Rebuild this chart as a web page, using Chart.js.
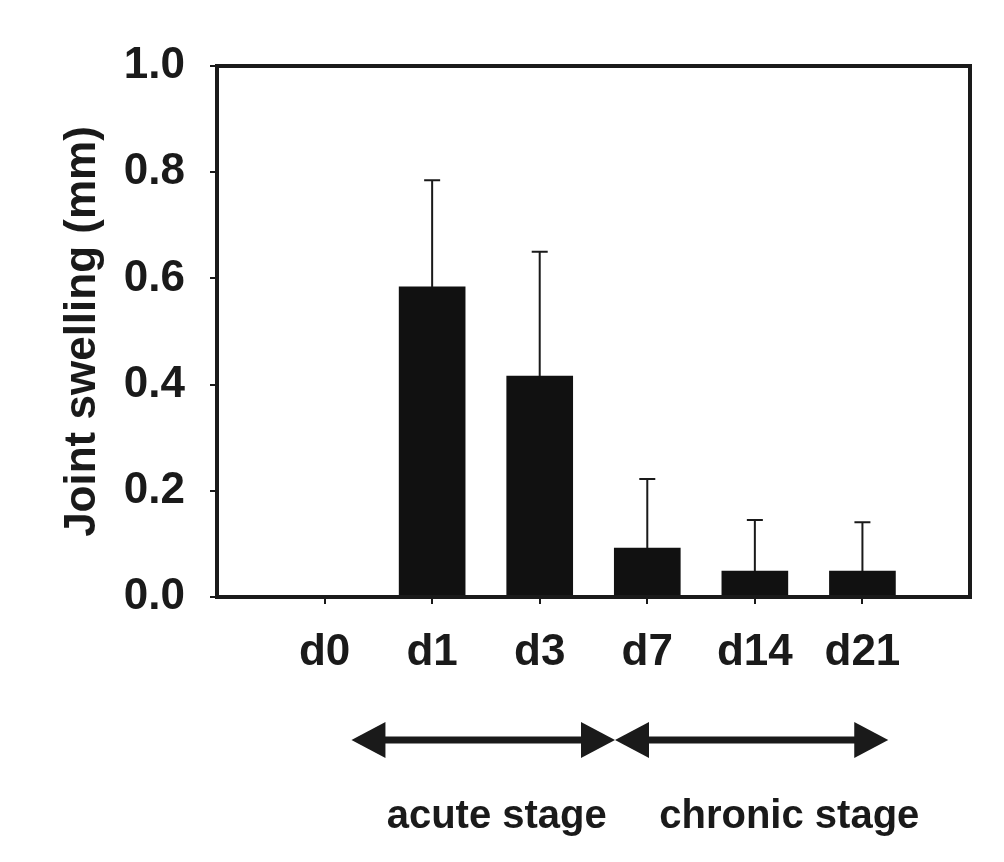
<!DOCTYPE html>
<html>
<head>
<meta charset="utf-8">
<script src="https://cdn.jsdelivr.net/npm/chart.js@4.4.1/dist/chart.umd.min.js"></script>
<style>
  body { margin: 0; background: #fff; }
  #wrap { width: 1004px; height: 862px; }
</style>
</head>
<body>
<div id="wrap"><canvas id="myChart" width="1004" height="862"></canvas></div>
<script>
// empty slots at both ends so the bars sit between the frame edges
const days = ['', 'd0', 'd1', 'd3', 'd7', 'd14', 'd21', ''];
const swelling = [null, 0, 0.584, 0.416, 0.092, 0.049, 0.049, null];
const swellingSD = [null, 0, 0.201, 0.234, 0.130, 0.096, 0.092, null];
const yTicks = [0, 0.2, 0.4, 0.6, 0.8, 1.0];
const stages = [
    { label: 'acute stage', from: 1.25, to: 3.7, text: 2.6 },
    { label: 'chronic stage', from: 3.7, to: 6.24, text: 5.32 }
];

const FONT = "'Liberation Sans', Arial, Helvetica, sans-serif";
const INK = '#1a1a1a';

const errorBars = {
    id: 'errorBars',
    afterDatasetsDraw(chart) {
        const ctx = chart.ctx;
        const x = chart.scales.x, y = chart.scales.y;
        ctx.save();
        ctx.strokeStyle = INK;
        ctx.lineWidth = 2;
        swelling.forEach(function(v, i) {
            if (v === null || !swellingSD[i]) return;
            const px = x.getPixelForValue(i);
            const top = y.getPixelForValue(v + swellingSD[i]);
            ctx.beginPath();
            ctx.moveTo(px, y.getPixelForValue(v));
            ctx.lineTo(px, top);
            ctx.moveTo(px - 8, top);
            ctx.lineTo(px + 8, top);
            ctx.stroke();
        });
        ctx.restore();
    }
};

const frame = {
    id: 'frame',
    afterDraw(chart) {
        const ctx = chart.ctx;
        const a = chart.chartArea;
        const x = chart.scales.x;
        ctx.save();
        ctx.strokeStyle = INK;
        ctx.lineWidth = 4;
        ctx.strokeRect(a.left, a.top, a.right - a.left, a.bottom - a.top);

        // stage arrows below the axis
        const ay = a.bottom + 143;
        ctx.fillStyle = INK;
        ctx.lineWidth = 7;
        stages.forEach(function(s) {
            const x0 = x.getPixelForValue(s.from);
            const x1 = x.getPixelForValue(s.to);
            ctx.beginPath();
            ctx.moveTo(x0 + 20, ay);
            ctx.lineTo(x1 - 20, ay);
            ctx.stroke();
            ctx.beginPath();
            ctx.moveTo(x0, ay);
            ctx.lineTo(x0 + 34, ay - 18);
            ctx.lineTo(x0 + 34, ay + 18);
            ctx.closePath();
            ctx.fill();
            ctx.beginPath();
            ctx.moveTo(x1, ay);
            ctx.lineTo(x1 - 34, ay - 18);
            ctx.lineTo(x1 - 34, ay + 18);
            ctx.closePath();
            ctx.fill();
            ctx.font = 'bold 40px ' + FONT;
            ctx.textAlign = 'center';
            ctx.textBaseline = 'middle';
            ctx.fillText(s.label, x.getPixelForValue(s.text), a.bottom + 220);
        });
        ctx.restore();
    }
};

const ctx = document.getElementById('myChart').getContext('2d');
const myChart = new Chart(ctx, {
    type: 'bar',
    data: {
        labels: days,
        datasets: [{
            label: 'Joint swelling',
            data: swelling,
            backgroundColor: '#111',
            borderWidth: 0,
            barThickness: 66
        }]
    },
    options: {
        responsive: false,
        animation: false,
        layout: { padding: { top: 66, right: 34, left: 0, bottom: 0 } },
        scales: {
            x: {
                offset: false,
                grid: {
                    offset: false,
                    drawOnChartArea: false,
                    drawTicks: true,
                    tickLength: 7,
                    lineWidth: 2,
                    color: function(c) {
                        return (c.index === 0 || c.index === days.length - 1) ? 'rgba(0,0,0,0)' : INK;
                    }
                },
                border: { display: true, width: 4, color: INK },
                ticks: {
                    color: INK,
                    padding: 22,
                    maxRotation: 0,
                    autoSkip: false,
                    font: { family: FONT, size: 44, weight: 'bold' }
                },
                afterFit: function(scale) { scale.height = 265; }
            },
            y: {
                min: 0,
                max: 1,
                afterBuildTicks: function(scale) {
                    scale.ticks = yTicks.map(function(v) { return { value: v }; });
                },
                grid: {
                    drawOnChartArea: false,
                    drawTicks: true,
                    tickLength: 7,
                    lineWidth: 2,
                    color: INK
                },
                border: { display: true, width: 4, color: INK },
                ticks: {
                    color: INK,
                    padding: 25,
                    font: { family: FONT, size: 44, weight: 'bold' },
                    callback: function(value) { return Number(value).toFixed(1); }
                },
                title: {
                    display: true,
                    text: 'Joint swelling (mm)',
                    color: INK,
                    padding: { top: 56, bottom: 0 },
                    font: { family: FONT, size: 44, weight: 'bold' }
                },
                afterFit: function(scale) { scale.width = 217; }
            }
        },
        plugins: {
            legend: { display: false },
            tooltip: { enabled: false }
        }
    },
    plugins: [errorBars, frame]
});
</script>
</body>
</html>
